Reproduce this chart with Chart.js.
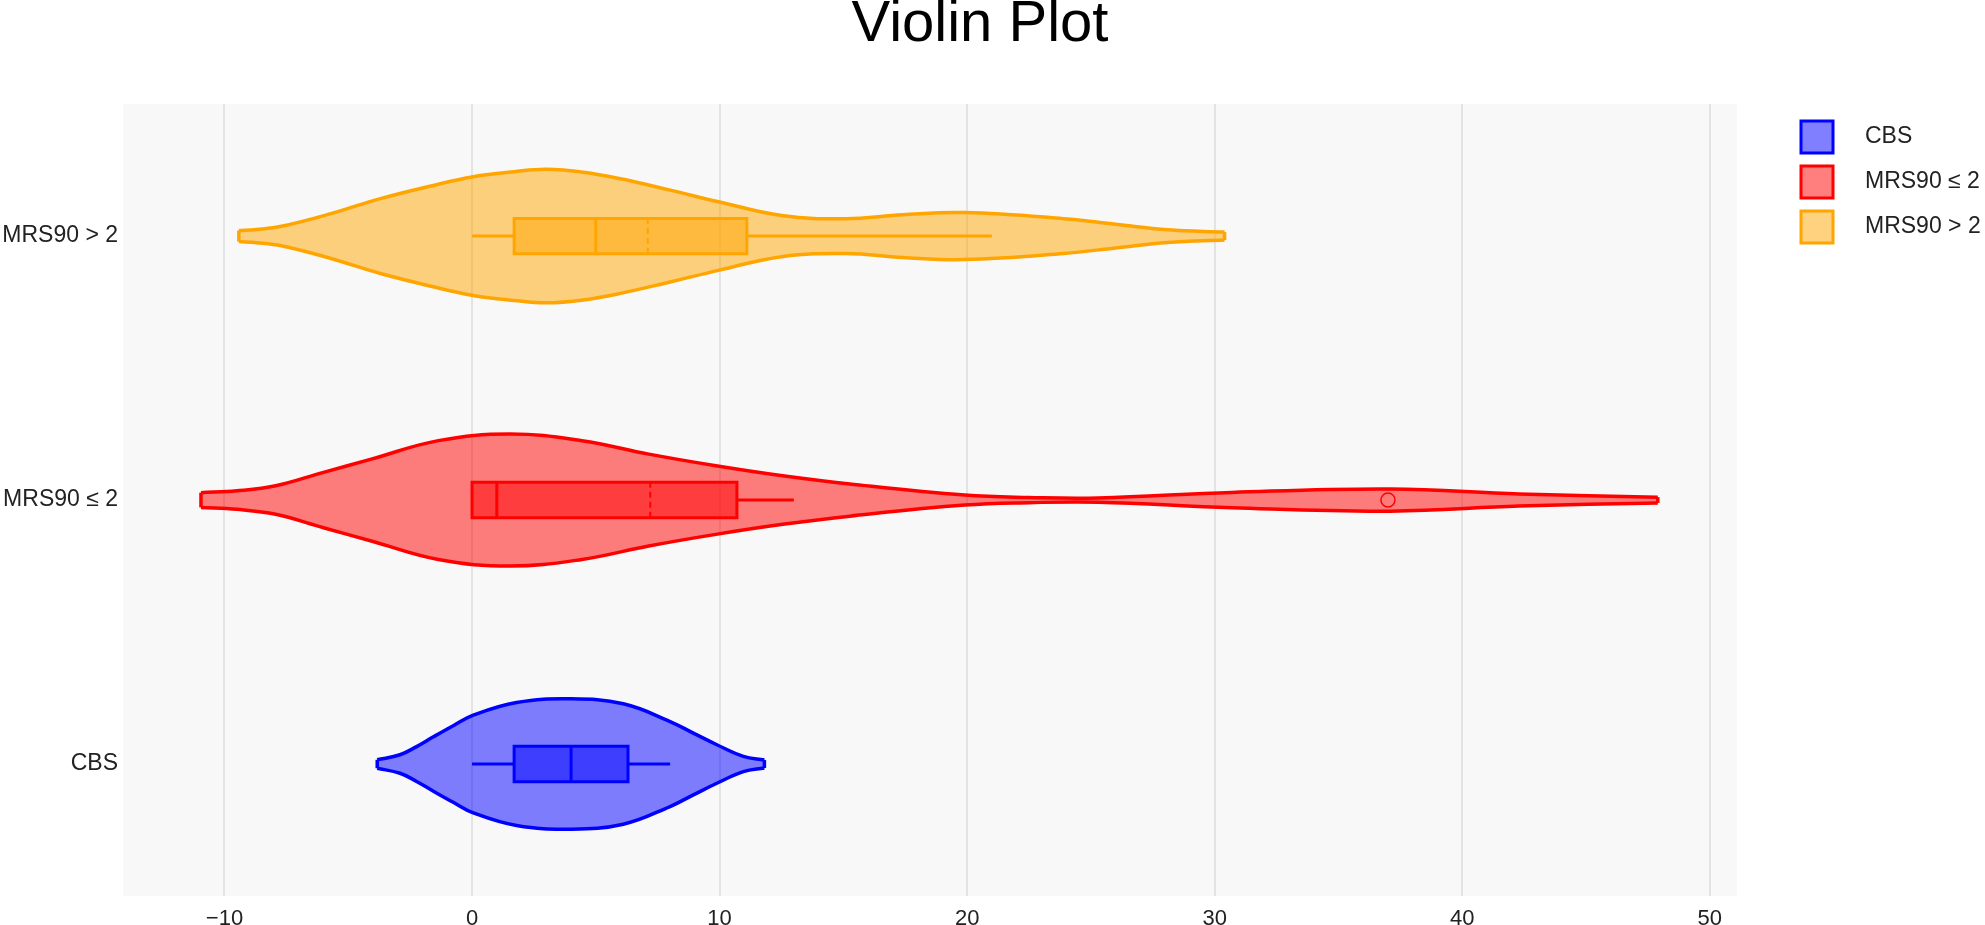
<!DOCTYPE html>
<html lang="en">
<head>
  <meta charset="UTF-8" />
  <title>Violin Plot</title>
  <style>
    body { margin: 0; background: #fff; }
    canvas { display: block; }
  </style>
</head>
<body>
  <canvas id="chart" width="1985" height="925"></canvas>

  <script src="https://cdn.jsdelivr.net/npm/chart.js"></script>
  <script>
    const categories = ['CBS', 'MRS90 ≤ 2', 'MRS90 > 2'];
    const colors = ['#0000ff', '#ff0000', '#ffa500'];
    const fills = ['rgba(0,0,255,0.5)', 'rgba(255,0,0,0.5)', 'rgba(255,165,0,0.5)'];
    const xTicks = [-10, 0, 10, 20, 30, 40, 50];

    // violin outlines: x value and half width (in category units)
    const cbsX = [-3.83, -2.91, -2.24, -1.56, -0.76, 0.05, 1.8, 3.96, 6.11, 8.0, 8.94, 9.89, 10.96, 11.81];
    const cbsW = [0.016, 0.035, 0.066, 0.103, 0.145, 0.185, 0.233, 0.247, 0.228, 0.161, 0.117, 0.073, 0.029, 0.015];
    const lowX = [-10.95, -9.5, -7.93, -6.0, -4.07, -1.36, 1.54, 4.44, 7.14, 9.85, 12.55, 15.26, 19.9, 22.5, 25.3, 30.7, 37.1, 42.3, 47.9];
    const lowW = [0.028, 0.035, 0.054, 0.105, 0.155, 0.225, 0.25, 0.225, 0.174, 0.13, 0.092, 0.061, 0.019, 0.01, 0.008, 0.029, 0.042, 0.023, 0.011];
    const highX = [-9.42, -8.7, -7.7, -5.7, -3.7, -1.7, 0.05, 1.7, 3.0, 4.5, 6.0, 8.0, 10.0, 12.5, 15.1, 17.4, 19.9, 23.9, 26.0, 28.1, 30.4];
    const highW = [0.021, 0.025, 0.037, 0.085, 0.142, 0.189, 0.225, 0.244, 0.253, 0.242, 0.217, 0.174, 0.129, 0.078, 0.066, 0.081, 0.089, 0.066, 0.045, 0.024, 0.015];

    // [lower whisker, q1, median, q3, upper whisker]
    const cbsBox = [0, 1.7, 4.0, 6.3, 8.0];
    const lowBox = [0, 0, 1.0, 10.7, 13.0];
    const highBox = [0, 1.7, 5.0, 11.1, 21.0];
    const means = [4.0, 7.2, 7.1];
    const outliers = [[], [37.0], []];

    const shapes = [[cbsX, cbsW], [lowX, lowW], [highX, highW]];
    const boxes = [cbsBox, lowBox, highBox];
    const H = 0.067; // half height of the box

    Chart.defaults.font.family = '"Liberation Sans", Arial, sans-serif';

    let datasets = [];
    categories.forEach((name, c) => {
      const [xs, ws] = shapes[c];
      const outline = {borderColor: colors[c], borderWidth: 3.5, tension: 0.4, order: 2};
      // upper half fills down to the lower half (next dataset)
      datasets.push(Object.assign({label: name, data: xs.map((x, i) => ({x, y: c + ws[i]})),
        fill: '+1', backgroundColor: fills[c]}, outline));
      datasets.push(Object.assign({data: xs.map((x, i) => ({x, y: c - ws[i]})), fill: false}, outline));
      const n = xs.length - 1;
      [[xs[0], ws[0]], [xs[n], ws[n]]].forEach(([x, w]) => {
        datasets.push(Object.assign({data: [{x, y: c - w}, {x, y: c + w}], fill: false}, outline));
      });

      const [lo, q1, med, q3, hi] = boxes[c];
      const seg = (pts, extra) => datasets.push(Object.assign({data: pts, borderColor: colors[c],
        borderWidth: 3, fill: false, tension: 0, order: 1}, extra || {}));
      seg([{x: q1, y: c - H}, {x: q3, y: c - H}, {x: q3, y: c + H}, {x: q1, y: c + H}, {x: q1, y: c - H}],
        {fill: 'shape', backgroundColor: fills[c], borderCapStyle: 'square'});
      if (lo < q1) seg([{x: lo, y: c}, {x: q1, y: c}]);
      if (hi > q3) seg([{x: q3, y: c}, {x: hi, y: c}]);
      seg([{x: med, y: c - H}, {x: med, y: c + H}]);
      seg([{x: means[c], y: c - H}, {x: means[c], y: c + H}], {borderWidth: 2, borderDash: [6, 4]});
      if (outliers[c].length) {
        datasets.push({data: outliers[c].map(x => ({x, y: c})), showLine: false, pointRadius: 7,
          pointBorderWidth: 1.5, pointBorderColor: colors[c], pointBackgroundColor: 'rgba(0,0,0,0)', order: 0});
      }
    });

    const plotBg = {
      id: 'plotBg',
      beforeDraw(chart) {
        const {ctx, chartArea: a} = chart;
        ctx.save();
        ctx.fillStyle = '#f8f8f8';
        ctx.fillRect(a.left, a.top, a.right - a.left, a.bottom - a.top);
        ctx.restore();
      }
    };

    const sideLegend = {
      id: 'sideLegend',
      afterDraw(chart) {
        const ctx = chart.ctx;
        const x = chart.chartArea.right + 64;
        ctx.save();
        categories.forEach((name, i) => {
          const top = 121 + i * 45;
          ctx.fillStyle = fills[i];
          ctx.fillRect(x, top, 32, 32);
          ctx.strokeStyle = colors[i];
          ctx.lineWidth = 3;
          ctx.strokeRect(x, top, 32, 32);
          ctx.fillStyle = '#222';
          ctx.font = '23px "Liberation Sans", Arial, sans-serif';
          ctx.textBaseline = 'middle';
          ctx.fillText(name, x + 64, top + 16);
        });
        ctx.restore();
      }
    };

    new Chart(document.getElementById('chart'), {
      type: 'line',
      data: {datasets},
      plugins: [plotBg, sideLegend],
      options: {
        responsive: false,
        animation: false,
        layout: {padding: {left: 3, right: 28, top: 0, bottom: 0}},
        elements: {point: {radius: 0, hoverRadius: 0}},
        plugins: {
          legend: {display: false},
          tooltip: {enabled: false},
          title: {display: true, text: 'Violin Plot', color: '#000',
            font: {size: 58, weight: 'normal', lineHeight: 0.86}, padding: {top: 0, bottom: 54.2}}
        },
        scales: {
          x: {
            type: 'linear', min: -14.1, max: 51.1,
            afterBuildTicks: a => { a.ticks = xTicks.map(v => ({value: v})); },
            afterFit: s => { s.height = 29; },
            grid: {color: '#e3e3e3', lineWidth: 2, drawTicks: false},
            border: {display: false},
            ticks: {padding: 10, color: '#222', font: {size: 22},
              callback: v => v < 0 ? '\u2212' + Math.abs(v) : String(v)}
          },
          y: {
            type: 'linear', min: -0.5, max: 2.5,
            afterBuildTicks: a => { a.ticks = categories.map((_, i) => ({value: i})); },
            afterFit: s => { s.width = 120; },
            grid: {display: false, drawTicks: false},
            border: {display: false},
            ticks: {padding: 5, color: '#222', font: {size: 23}, callback: v => categories[v]}
          },
          pad: {
            type: 'linear', position: 'right', min: 0, max: 1,
            grid: {display: false}, border: {display: false}, ticks: {display: false},
            afterFit: s => { s.width = 220; }
          }
        }
      }
    });
  </script>
</body>
</html>
